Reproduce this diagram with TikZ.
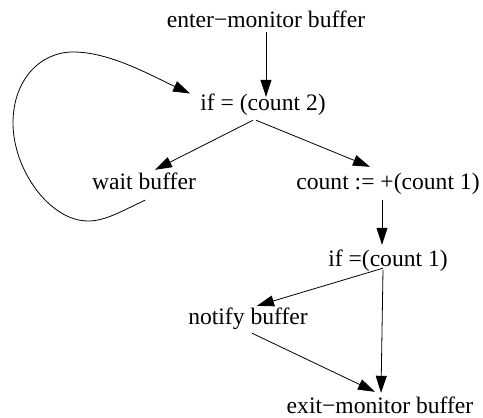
\documentclass[tikz,border=0pt]{standalone}
\usepackage{fontspec}
\setmainfont{Liberation Serif}
\usetikzlibrary{arrows.meta}
\begin{document}
\begin{tikzpicture}[x=1pt,y=-1pt,
  lbl/.style={anchor=base,inner sep=0pt,text height=16pt,text depth=5pt,font=\fontsize{23.6}{28}\selectfont},
  arr/.style={-{Triangle[length=17pt,width=11pt]},line width=0.8pt}]
\useasboundingbox (0,0) rectangle (483,418);
\node[lbl] (enter) at (266,27) {enter−monitor buffer};
\node[lbl] (if2) at (263,110) {if = (count 2)};
\node[lbl] (wait) at (144,189) {wait buffer}; \node[lbl] (cnt) at (388,189) {count := +(count 1)};
\node[lbl] (if1) at (388,266) {if =(count 1)};
\node[lbl] (notify) at (248,324) {notify buffer};
\node[lbl] (exit) at (380,413) {exit−monitor buffer};
\draw[arr] (enter.south)--([xshift=3pt,yshift=-3pt]if2.north);
\draw[arr] ([xshift=-10pt,yshift=-5pt]if2.south)--([xshift=11pt,yshift=3pt]wait.north);
\draw[arr] ([xshift=-7pt,yshift=-5pt]if2.south)--([xshift=-18pt,yshift=6pt]cnt.north);
\draw[arr] ([xshift=-6pt,yshift=-6pt]cnt.south)--([xshift=-6pt,yshift=5pt]if1.north);
\draw[arr] ([xshift=-5pt,yshift=3pt]if1.south)--([xshift=9pt,yshift=2pt]notify.north);
\draw[arr] ([xshift=-5pt,yshift=1pt]if1.south)--([xshift=1pt,yshift=4pt]exit.north);
\draw[arr] ([xshift=4pt,yshift=-4pt]notify.south)--([xshift=-5pt,yshift=5pt]exit.north);
% wait -> if loop
\draw[arr] ([xshift=1pt,yshift=-6pt]wait.south) .. controls (120,212) and (105,221) .. (88,221)
  .. controls (50,221) and (13,170) .. (13,123) .. controls (13,80) and (40,52) .. (73,52)
  .. controls (110,52) and (150,75) .. ([xshift=-10pt,yshift=11pt]if2.west);
\end{tikzpicture}
\end{document}
